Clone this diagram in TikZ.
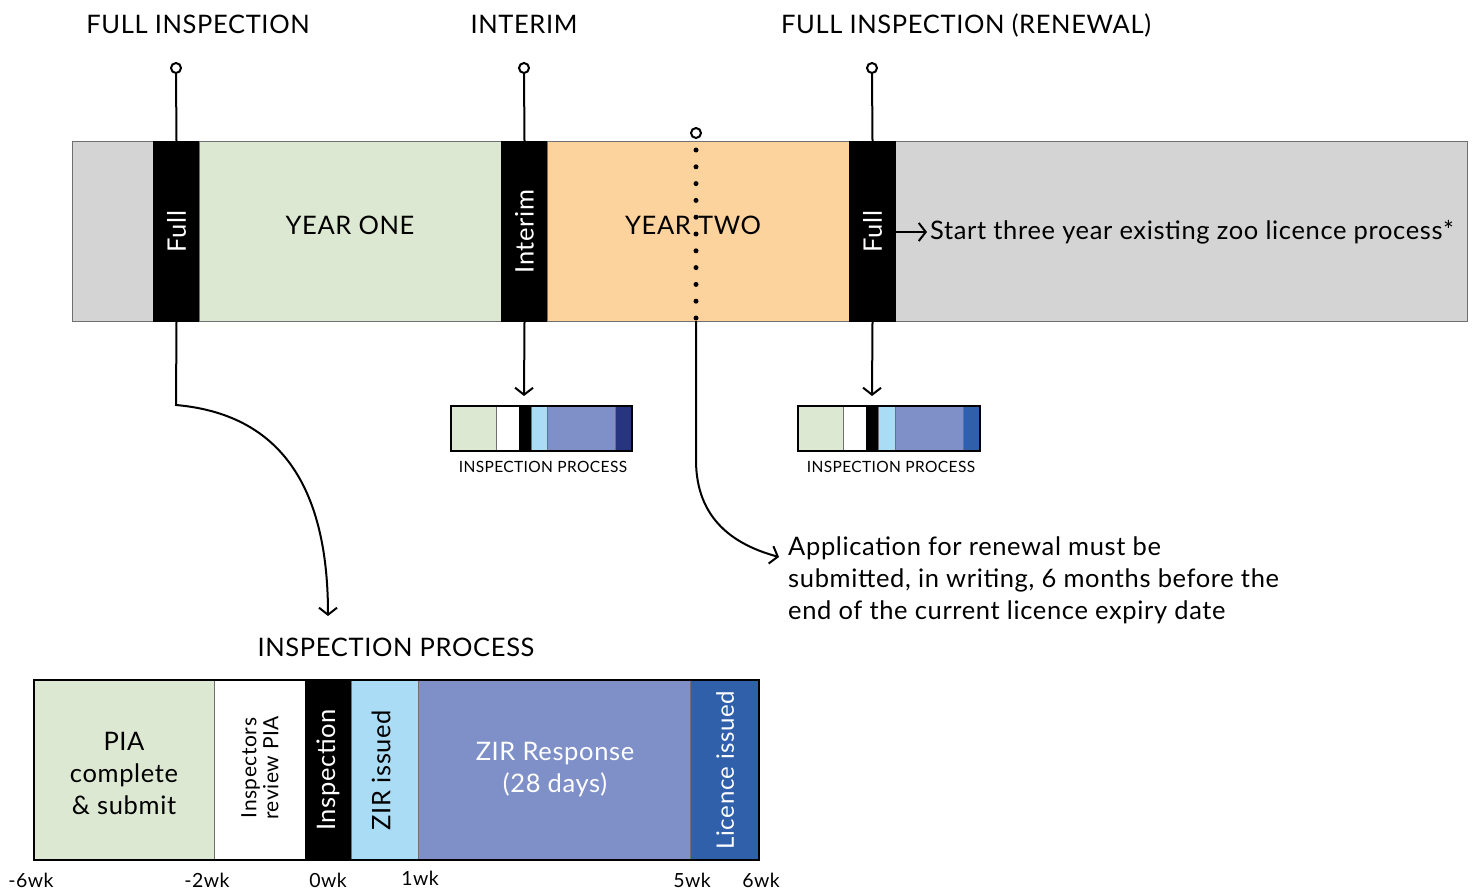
\documentclass[tikz,border=0pt]{standalone}
\usepackage{fontspec}
\setmainfont{Lato}[LetterSpace=2.5]
\usetikzlibrary{arrows.meta,positioning}
\definecolor{cgreen}{HTML}{DDE8D3}
\definecolor{corange}{HTML}{FCD29D}
\definecolor{cgray}{HTML}{D4D4D4}
\definecolor{cborder}{HTML}{707070}
\definecolor{clblue}{HTML}{AADCF6}
\definecolor{cperi}{HTML}{7F90C8}
\definecolor{cblue}{HTML}{3060AA}
\definecolor{cnavy}{HTML}{273580}
\tikzset{
  seg/.style={draw=cborder, line width=1pt, inner sep=0pt, anchor=north west, minimum height=#1},
  seg/.default=180,
  big/.style={font=\fontsize{25.5}{29}\selectfont},
  lab/.style={font=\fontsize{25.5}{32}\selectfont},
  small/.style={font=\fontsize{15.5}{17}\selectfont},
  tick/.style={font=\fontsize{19.5}{22}\selectfont, anchor=base},
  conn/.style={line width=2pt, -{Straight Barb[length=7pt,width=18pt,line width=2pt]}},
  pin/.style={line width=2pt},
  pinhead/.style={circle, draw, line width=2pt, fill=white, inner sep=0pt, minimum size=10pt},
}
\begin{document}
\begin{tikzpicture}[x=1pt,y=-1pt]
\useasboundingbox (0,0) rectangle (1480,891);
% main bar
\node[seg, fill=cgray, minimum width=1395] (bar) at (72,141) {};
\node[seg, fill=black, draw=black, minimum width=46] (f1) at (153,141) {};
\node[seg, fill=cgreen, minimum width=302] (y1) at (199,141) {};
\node[seg, fill=black, draw=black, minimum width=46] (im) at (501,141) {};
\node[seg, fill=corange, minimum width=302] (y2) at (547,141) {};
\node[seg, fill=black, draw=black, minimum width=46] (f2) at (849,141) {};
\node[big, text=white, rotate=90] at (f1.center) {Full};
\node[big, text=white, rotate=90] at (im.center) {Interim};
\node[big, text=white, rotate=90] at (f2.center) {Full};
\node[big] at (350,225) {YEAR ONE};
\node[big] at (693,225) {YEAR TWO};
% headings
\node[big, anchor=base] (h1) at (198,34) {FULL INSPECTION};
\node[big, anchor=base] (h2) at (524,34) {INTERIM};
\node[big, anchor=base] (h3) at (966,34) {FULL INSPECTION (RENEWAL)};
% pins
\node[pinhead] (p1) at (176,68) {};
\node[pinhead] (p2) at (524,68) {};
\node[pinhead] (p3) at (872,68) {};
\draw[pin] (p1.south) -- (f1.north);
\draw[pin] (p2.south) -- (im.north);
\draw[pin] (p3.south) -- (f2.north);
% dotted line
\node[pinhead] (p4) at (696,133) {};
\draw[line width=5pt, line cap=round, dash pattern=on 0pt off 16.8pt] (696,150) -- (696,318);
% start three year
\node[lab, anchor=west, inner sep=0pt] (start) at (930,232) {Start three year existing zoo licence process*};
\draw[conn] (f2.east |- start.west) -- ([xshift=-3pt]start.west);
% small process bars
\node[seg=45, fill=cgreen, minimum width=45] (a1) at (451,406) {};
\node[seg=45, fill=white, minimum width=23] (a2) at (496,406) {};
\node[seg=45, fill=black, draw=black, minimum width=12] (a3) at (519,406) {};
\node[seg=45, fill=clblue, minimum width=16] (a4) at (531,406) {};
\node[seg=45, fill=cperi, minimum width=68] (a5) at (547,406) {};
\node[seg=45, fill=cnavy, minimum width=17] (a6) at (615,406) {};
\draw[line width=1.5pt] (451,406) rectangle (632,451);
\node[small, anchor=base] (al) at (543,472) {INSPECTION PROCESS};
\node[seg=45, fill=cgreen, minimum width=45] (b1) at (798,406) {};
\node[seg=45, fill=white, minimum width=23] (b2) at (843,406) {};
\node[seg=45, fill=black, draw=black, minimum width=12] (b3) at (866,406) {};
\node[seg=45, fill=clblue, minimum width=17] (b4) at (878,406) {};
\node[seg=45, fill=cperi, minimum width=68] (b5) at (895,406) {};
\node[seg=45, fill=cblue, minimum width=17] (b6) at (963,406) {};
\draw[line width=1.5pt] (798,406) rectangle (980,451);
\node[small, anchor=base] (bl) at (891,472) {INSPECTION PROCESS};
\draw[conn] (im.south) -- (524,396);
\draw[conn] (f2.south) -- (872,396);
% curved connectors
\coordinate (c1) at (328,616);
\draw[conn] (f1.south) -- (176,405) .. controls (290,415) and (328,500) .. (c1);
\coordinate (c2) at (779,557);
\draw[conn] (696,321) -- (696,460) .. controls (696,520) and (735,545) .. (c2);
% application text
\node[lab, anchor=north west, align=left, inner sep=0pt] (app) at (788,537) {Application for renewal must be\\submitted, in writing, 6 months before the\\end of the current licence expiry date};
% bottom process
\node[big, anchor=base] (ip) at (396,656) {INSPECTION PROCESS};
\node[seg, fill=cgreen, minimum width=180] (s1) at (34,680) {};
\node[seg, fill=white, minimum width=91] (s2) at (214,680) {};
\node[seg, fill=black, draw=black, minimum width=46] (s3) at (305,680) {};
\node[seg, fill=clblue, minimum width=67] (s4) at (351,680) {};
\node[seg, fill=cperi, minimum width=272] (s5) at (418,680) {};
\node[seg, fill=cblue, minimum width=69] (s6) at (690,680) {};
\draw[line width=2.5pt] (34,680) rectangle (759,860);
\node[big, align=center, font=\fontsize{25.5}{32}\selectfont] at (124,773) {PIA\\complete\\\&{} submit};
\node[font=\fontsize{21}{22}\selectfont, rotate=90, align=center] at (260,768) {Inspectors\\review PIA};
\node[big, text=white, rotate=90] at (328,770) {Inspection};
\node[big, rotate=90] at (381,770) {ZIR issued};
\node[big, text=white, align=center, font=\fontsize{25.5}{32}\selectfont] at (555,770) {ZIR Response\\(28 days)};
\node[text=white, rotate=90, font=\fontsize{24}{28}\selectfont] at (725,770) {Licence issued};
% ticks
\node[tick] at (31,887) {-6wk};
\node[tick] at (207,887) {-2wk};
\node[tick] at (328,887) {0wk};
\node[tick] at (420,885) {1wk};
\node[tick] at (692,887) {5wk};
\node[tick] at (761,887) {6wk};
\end{tikzpicture}
\end{document}
